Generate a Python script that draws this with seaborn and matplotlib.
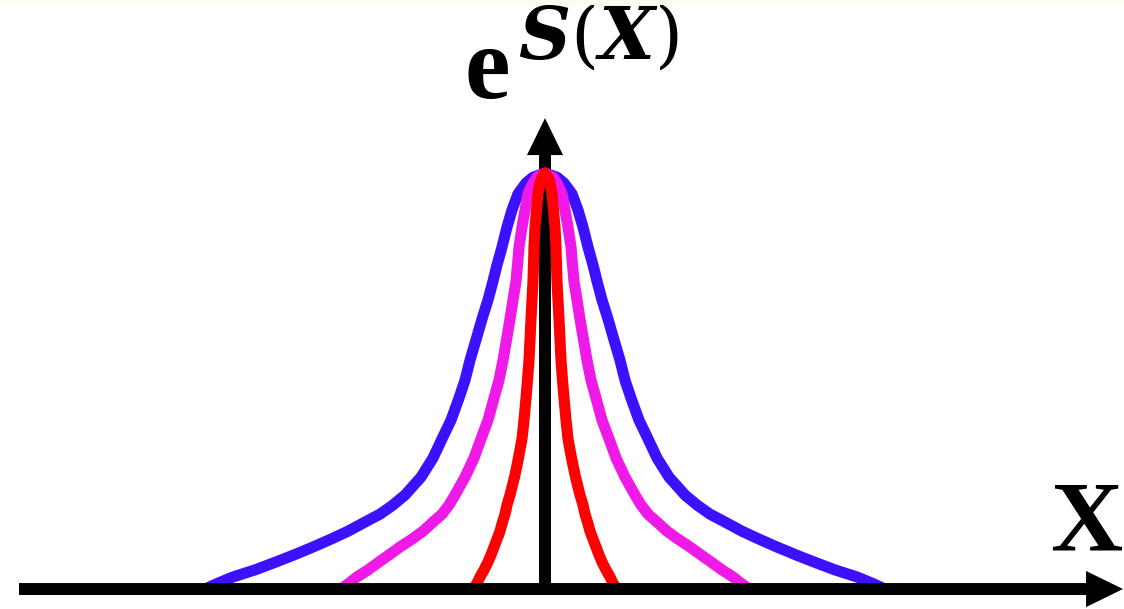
import matplotlib
matplotlib.use("Agg")
import matplotlib.pyplot as plt
import seaborn as sns
from matplotlib.patches import Rectangle

# Heights of e^{S(X)} (peak normalised to 1), shared by the three profiles
heights = [0.000, 0.014, 0.029, 0.046, 0.065, 0.082, 0.101, 0.120, 0.139, 0.161,
           0.180, 0.202, 0.226, 0.269, 0.315, 0.361, 0.406, 0.459, 0.502, 0.550,
           0.599, 0.649, 0.695, 0.740, 0.779, 0.822, 0.870, 0.911, 0.950, 0.976,
           0.990, 1.000, 0.990, 0.976, 0.950, 0.911, 0.870, 0.822, 0.779, 0.740,
           0.695, 0.649, 0.599, 0.550, 0.502, 0.459, 0.406, 0.361, 0.315, 0.269,
           0.226, 0.202, 0.180, 0.161, 0.139, 0.120, 0.101, 0.082, 0.065, 0.046,
           0.029, 0.014, 0.000]

# X positions of the widest (blue) profile
blue_x = [-3.40, -3.27, -3.12, -2.90, -2.69, -2.51, -2.32, -2.14, -1.97, -1.80,
          -1.65, -1.52, -1.40, -1.24, -1.12, -1.03, -0.94, -0.86, -0.80, -0.75,
          -0.69, -0.63, -0.57, -0.52, -0.48, -0.43, -0.38, -0.33, -0.27, -0.19,
          -0.12, 0.00, 0.12, 0.19, 0.27, 0.33, 0.38, 0.43, 0.48, 0.52,
          0.57, 0.63, 0.69, 0.75, 0.80, 0.86, 0.94, 1.03, 1.12, 1.24,
          1.40, 1.52, 1.65, 1.80, 1.97, 2.14, 2.32, 2.51, 2.69, 2.90,
          3.12, 3.27, 3.40]

# X positions of the intermediate (magenta) profile
magenta_x = [-2.04, -1.96, -1.88, -1.77, -1.66, -1.56, -1.45, -1.33, -1.22, -1.12,
             -1.03, -0.96, -0.90, -0.80, -0.71, -0.64, -0.57, -0.51, -0.46, -0.42,
             -0.385, -0.35, -0.32, -0.29, -0.275, -0.26, -0.23, -0.20, -0.17, -0.12,
             -0.08, 0.00, 0.08, 0.12, 0.17, 0.20, 0.23, 0.26, 0.275, 0.29,
             0.32, 0.35, 0.385, 0.42, 0.46, 0.51, 0.57, 0.64, 0.71, 0.80,
             0.90, 0.96, 1.03, 1.12, 1.22, 1.33, 1.45, 1.56, 1.66, 1.77,
             1.88, 1.96, 2.04]

# X positions of the narrowest (red) profile
red_x = [-0.72, -0.68, -0.65, -0.61, -0.57, -0.54, -0.51, -0.48, -0.45, -0.425,
         -0.40, -0.38, -0.35, -0.305, -0.265, -0.23, -0.21, -0.19, -0.175, -0.16,
         -0.15, -0.14, -0.13, -0.12, -0.115, -0.11, -0.10, -0.085, -0.07, -0.05,
         -0.03, 0.00, 0.03, 0.05, 0.07, 0.085, 0.10, 0.11, 0.115, 0.12,
         0.13, 0.14, 0.15, 0.16, 0.175, 0.19, 0.21, 0.23, 0.265, 0.305,
         0.35, 0.38, 0.40, 0.425, 0.45, 0.48, 0.51, 0.54, 0.57, 0.61,
         0.65, 0.68, 0.72]

profiles = [
    ("blue", blue_x, "#3D10FF"),
    ("magenta", magenta_x, "#F01AE8"),
    ("red", red_x, "#FF0000"),
]

sns.set_theme(style="white")
plt.rcParams["mathtext.fontset"] = "custom"
plt.rcParams["mathtext.it"] = "DejaVu Serif:italic:bold"
plt.rcParams["mathtext.rm"] = "DejaVu Serif"

fig = plt.figure(figsize=(11.24, 6.09), dpi=100)
fig.patch.set_facecolor("white")
fig.patches.append(Rectangle((0, 1 - 5 / 609), 1, 5 / 609, transform=fig.transFigure,
                             facecolor="#FFFCEE", edgecolor="none", zorder=0))

ax = fig.add_axes([0, 0, 1, 1])
ax.set_xlim(-5.45, 5.79)
ax.set_ylim(-0.048, 1.416)
ax.axis("off")

arrow_style = "simple,head_length=1.33,head_width=1.30,tail_width=0.43"

# vertical axis, drawn beneath the curves
ax.annotate("", xy=(0, 1.132), xytext=(0, 0.0),
            arrowprops=dict(arrowstyle=arrow_style, mutation_scale=20,
                            fc="black", ec="none", lw=0, shrinkA=0, shrinkB=0),
            zorder=1)

for i, (name, xs, color) in enumerate(profiles):
    sns.lineplot(x=xs, y=heights, sort=False, estimator=None, color=color,
                 linewidth=8.0, ax=ax, zorder=2 + i,
                 solid_joinstyle="round", solid_capstyle="butt")

# horizontal axis, on top of the curve ends
ax.annotate("", xy=(5.78, 0.0), xytext=(-5.26, 0.0),
            arrowprops=dict(arrowstyle=arrow_style, mutation_scale=20,
                            fc="black", ec="none", lw=0, shrinkA=0, shrinkB=0),
            zorder=10)

ax.text(-0.81, 1.180, "e", fontfamily="Liberation Serif", fontweight="bold",
        fontsize=74, ha="left", va="baseline", color="black")
ax.text(-0.27, 1.275, r"$S(X)$", fontsize=52, ha="left", va="baseline",
        color="black")
ax.text(5.77, 0.094, "X", fontfamily="Liberation Serif", fontweight="bold",
        fontsize=72, ha="right", va="baseline", color="black")

fig.savefig("out.png", dpi=100)
